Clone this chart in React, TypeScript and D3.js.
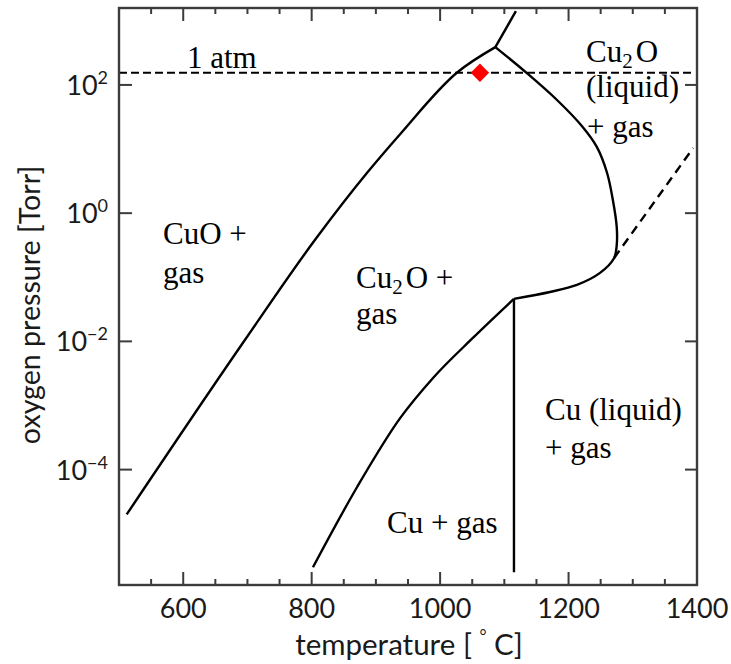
import React from 'react';
import * as d3 from 'd3';

// temperature in deg C, oxygen pressure in Torr
const xMajorTicks = [600, 800, 1000, 1200, 1400];
const xMinorTicks = [550, 650, 700, 750, 850, 900, 950, 1050, 1100, 1150, 1250, 1300, 1350];
const yTickExps = [-4, -2, 0, 2];

const cuoT = [512, 696, 805, 886, 938, 1026, 1086];
const cuoP = [2.0e-5, 1.05e-2, 0.381, 4.23, 17.2, 155, 389];

const topT = [1086, 1118];
const topP = [389, 1413];

const liqT = [1086, 1135, 1182, 1222, 1244, 1260, 1269, 1275, 1275, 1271, 1249, 1213, 1171, 1115];
const liqP = [389, 153, 58.2, 22.1, 10.8, 4.23, 1.60, 0.608, 0.318, 0.20, 0.117, 0.076, 0.059, 0.046];

const cuT = [802, 871, 938, 989, 1051, 1115];
const cuP = [3.0e-6, 5.4e-5, 6.4e-4, 2.69e-3, 1.13e-2, 0.046];

const meltT = [1115, 1115];
const meltP = [0.046, 2.5e-6];

const dashT = [1271, 1394];
const dashP = [0.20, 10.4];

const atmT = [500, 1394];
const atmP = [155, 155];

const pointT = 1062;
const pointP = 155;

const W = 731;
const H = 664;
const left = 119, right = 697, top = 8, bottom = 585;

const x = d3.scaleLinear().domain([500, 1400]).range([left, right]);
const y = d3.scaleLog().domain([Math.pow(10, -5.8), Math.pow(10, 3.2)]).range([bottom, top]);

const mk = (ts: number[], ps: number[]) => ts.map((t, i) => [x(t), y(ps[i])] as [number, number]);
const mono = d3.line().curve(d3.curveMonotoneX);
const smooth = d3.line().curve(d3.curveCatmullRom.alpha(0.5));
const straight = d3.line();

const serif = '"Liberation Serif", serif';
const sans = 'Lato, sans-serif';
const axisColor = '#3c3c3c';

const App: React.FC = () => {
  const labelSize = 31;
  return (
    <svg width={W} height={H} style={{ position: 'absolute', left: 0, top: 0, background: '#fff' }}>
      {/* curves */}
      <g fill="none" stroke="#000" strokeWidth={2.4}>
        <path d={mono(mk(cuoT, cuoP)) || ''} />
        <path d={straight(mk(topT, topP)) || ''} />
        <path d={smooth(mk(liqT, liqP)) || ''} />
        <path d={mono(mk(cuT, cuP)) || ''} />
        <path d={straight(mk(meltT, meltP)) || ''} />
        <path d={straight(mk(dashT, dashP)) || ''} strokeDasharray="9,6" />
        <path d={straight(mk(atmT, atmP)) || ''} strokeDasharray="8,4" strokeWidth={2} />
      </g>
      <rect
        x={x(pointT) - 6.5}
        y={y(pointP) - 6.5}
        width={13}
        height={13}
        fill="#ff0000"
        transform={`rotate(45 ${x(pointT)} ${y(pointP)})`}
      />

      {/* frame and ticks */}
      <rect x={left} y={top} width={right - left} height={bottom - top} fill="none" stroke={axisColor} strokeWidth={2.4} />
      <g stroke={axisColor} strokeWidth={2}>
        {xMajorTicks.map(t => (
          <g key={'M' + t}>
            <line x1={x(t)} x2={x(t)} y1={bottom} y2={bottom - 13} />
            <line x1={x(t)} x2={x(t)} y1={top} y2={top + 13} />
          </g>
        ))}
        {xMinorTicks.map(t => (
          <g key={'m' + t}>
            <line x1={x(t)} x2={x(t)} y1={bottom} y2={bottom - 6} />
            <line x1={x(t)} x2={x(t)} y1={top} y2={top + 6} />
          </g>
        ))}
        {yTickExps.map(e => (
          <g key={'y' + e}>
            <line x1={left} x2={left + 13} y1={y(Math.pow(10, e))} y2={y(Math.pow(10, e))} />
            <line x1={right} x2={right - 12} y1={y(Math.pow(10, e))} y2={y(Math.pow(10, e))} />
          </g>
        ))}
      </g>

      {/* tick labels */}
      <g fontFamily={sans} fontSize={27} fill="#1a1a1a">
        {xMajorTicks.map(t => (
          <text key={'xl' + t} x={x(t)} y={618} textAnchor="middle">{t}</text>
        ))}
        {yTickExps.map(e => (
          <text key={'yl' + e} x={108} y={y(Math.pow(10, e)) + 10} textAnchor="end">
            10<tspan fontSize={18} dy={-11}>{e < 0 ? '\u2212' + Math.abs(e) : e}</tspan>
          </text>
        ))}
      </g>

      {/* axis titles */}
      <text x={409} y={655} textAnchor="middle" fontFamily={sans} fontSize={29.5} fill="#1a1a1a">
        temperature [ <tspan fontSize={17} dy={-13}>°</tspan><tspan dy={13}> C]</tspan>
      </text>
      <text
        transform={`translate(40, 305) rotate(-90)`}
        textAnchor="middle"
        fontFamily={sans}
        fontSize={28.6}
        fill="#1a1a1a"
      >
        oxygen pressure [Torr]
      </text>

      {/* region labels */}
      <g fontFamily={serif} fontSize={labelSize} fill="#000">
        <text x={187} y={68}>1 atm</text>
        <text x={586} y={62}>Cu<tspan fontSize={21} dy={6}>2</tspan><tspan dx={3} dy={-6}>O</tspan></text>
        <text x={586} y={97}>(liquid)</text>
        <text x={587} y={137}>+ gas</text>
        <text x={163} y={244}>CuO +</text>
        <text x={163} y={283}>gas</text>
        <text x={356} y={288}>Cu<tspan fontSize={21} dy={6}>2</tspan><tspan dx={3} dy={-6}>O +</tspan></text>
        <text x={356} y={324}>gas</text>
        <text x={545} y={420}>Cu (liquid)</text>
        <text x={545} y={458}>+ gas</text>
        <text x={387} y={533}>Cu + gas</text>
      </g>
    </svg>
  );
};

export default App;
